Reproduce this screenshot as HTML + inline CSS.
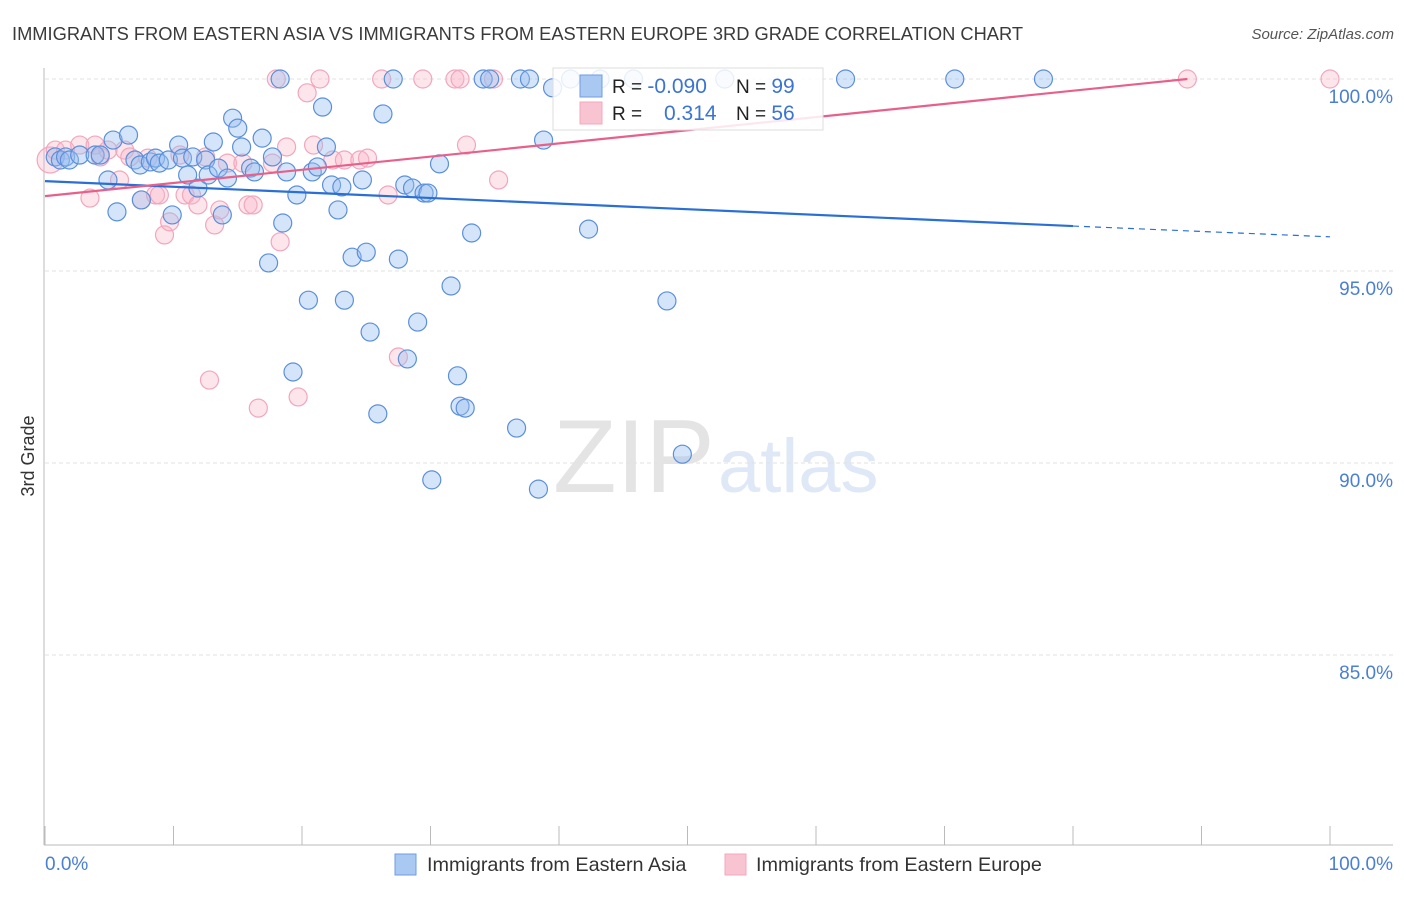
<!DOCTYPE html>
<html><head><meta charset="utf-8"><style>
body{margin:0;background:#fff;font-family:"Liberation Sans",sans-serif;}
svg text{font-family:"Liberation Sans",sans-serif;}
</style></head><body>
<svg id="c" width="1406" height="892">
<text x="12" y="40" font-size="18.3" fill="#3a3a3a">IMMIGRANTS FROM EASTERN ASIA VS IMMIGRANTS FROM EASTERN EUROPE 3RD GRADE CORRELATION CHART</text>
<text x="1394" y="39" font-size="15" fill="#555" font-style="italic" text-anchor="end">Source: ZipAtlas.com</text>
<text x="34" y="456" font-size="18" fill="#333" text-anchor="middle" transform="rotate(-90 34 456)">3rd Grade</text>
<g>
<text x="553" y="492" font-size="104" fill="#e4e4e4" font-family="Liberation Serif">ZIP</text>
<text x="718" y="492" font-size="76" fill="#dfe8f6">atlas</text>
</g>
<g id="grid"></g><g id="marks"></g><g id="lines"></g>
<g>
<rect x="553" y="68" width="270" height="62" fill="#fff" fill-opacity="0.85" stroke="#ddd"/>
<rect x="580" y="75" width="22" height="22" fill="#a9c8f2" stroke="#6e9de0"/>
<rect x="580" y="102" width="22" height="22" fill="#f9c4d2" stroke="#f3a9bd"/>
<text x="612" y="93" font-size="19" fill="#222">R = <tspan fill="#3b74d4" font-size="21">-0.090</tspan></text>
<text x="736" y="93" font-size="19" fill="#222">N = <tspan fill="#3b74d4" font-size="21">99</tspan></text>
<text x="612" y="120" font-size="19" fill="#222">R = <tspan fill="#3b74d4" x="664" font-size="21">0.314</tspan></text>
<text x="736" y="120" font-size="19" fill="#222">N = <tspan fill="#3b74d4" font-size="21">56</tspan></text>
</g>
<g>
<rect x="395" y="854" width="21" height="21" fill="#a9c8f2" stroke="#6e9de0"/>
<text x="427" y="871" font-size="19.8" fill="#333">Immigrants from Eastern Asia</text>
<rect x="725" y="854" width="21" height="21" fill="#f9c4d2" stroke="#f3a9bd"/>
<text x="756" y="871" font-size="19.8" fill="#333">Immigrants from Eastern Europe</text>
</g>
</svg>
<script>
const asiaX=[0.8,1.2,1.6,1.9,2.7,3.9,4.3,4.9,5.3,5.6,6.5,7.0,7.4,7.5,8.2,8.6,8.9,9.6,9.9,10.4,10.7,11.1,11.5,11.9,12.5,12.7,13.1,13.5,13.8,14.2,14.6,15.0,15.3,16.0,16.3,16.9,17.4,17.7,18.5,18.8,19.3,19.6,20.5,20.8,21.2,21.6,21.9,22.3,22.8,23.1,23.3,23.9,24.7,25.0,25.3,25.9,26.3,27.5,28.0,28.2,28.6,29.0,29.5,29.8,30.1,30.7,31.6,32.1,32.3,32.7,33.2,36.7,38.4,38.8,39.5,42.3,48.4,49.6,18.3,27.1,34.1,34.6,37.0,37.7,40.9,43.2,45.8,52.9,62.3,70.8,77.7];
const asiaY=[97.97,97.89,97.97,97.89,98.02,98.02,98.02,97.37,98.41,96.54,98.54,97.89,97.76,96.85,97.84,97.94,97.81,97.89,96.46,98.28,97.94,97.5,97.97,97.16,97.89,97.5,98.36,97.68,96.46,97.42,98.98,98.72,98.23,97.68,97.58,98.46,95.21,97.97,96.25,97.58,92.37,96.98,94.24,97.58,97.71,99.27,98.23,97.24,96.59,97.19,94.24,95.36,97.37,95.49,93.41,91.28,99.09,95.31,97.24,92.71,97.16,93.67,97.03,97.03,89.56,97.79,94.61,92.27,91.48,91.43,95.99,90.91,89.32,98.41,99.77,96.09,94.22,90.23,100,100,100,100,100,100,100,100,100,100,100,100,100];
const eurX=[0.4,0.8,1.6,2.7,3.9,4.3,5.8,6.2,6.6,7.5,8.0,8.6,8.9,9.3,9.7,10.5,10.9,11.4,11.9,12.5,12.8,13.2,13.6,14.2,15.4,15.8,16.2,16.6,17.7,18.3,18.8,19.7,20.4,20.9,22.4,23.3,24.5,25.1,26.7,27.5,32.8,35.3,3.5,4.9,18.0,21.4,26.2,29.4,31.9,32.3,34.9,88.9,100];
const eurY=[97.89,98.15,98.15,98.28,98.28,97.97,97.37,98.15,97.97,96.85,97.94,96.98,96.98,95.94,96.28,98.02,96.98,96.98,96.72,97.97,92.16,96.2,96.59,97.81,97.81,96.72,96.72,91.43,97.81,95.76,98.23,91.72,99.64,98.28,97.89,97.89,97.89,97.94,96.98,92.76,98.28,97.37,96.9,98.15,100,100,100,100,100,100,100,100,100];
const yTicks=[100,95,90,85];
const yTickLabels=["100.0%","95.0%","90.0%","85.0%"];
const xTicks=[0,10,20,30,40,50,60,70,80,90,100];
const asiaTrend=[[0,97.34],[80,96.17]], asiaTrendDash=[[80,96.17],[100,95.89]];
const eurTrend=[[0,96.95],[88.9,100]];
const NS='http://www.w3.org/2000/svg';
const sx=v=>45+v*12.85, sy=v=>79+(100-v)*38.4;
function mk(t,a,p){const e=document.createElementNS(NS,t);for(const k in a)e.setAttribute(k,a[k]);p.appendChild(e);return e;}
const grid=document.getElementById('grid'),marks=document.getElementById('marks'),lines=document.getElementById('lines');
yTicks.forEach((v,i)=>{
 const l=mk('line',{x1:45,x2:1393,y1:sy(v),y2:sy(v),stroke:'#e2e2e2','stroke-dasharray':'4 3'},grid);
 
 
 const t=mk('text',{x:1393,y:sy(v)+24,'font-size':19,fill:'#4a7fd4','text-anchor':'end'},grid);
 t.textContent=yTickLabels[i];
 
 
});
const ax=mk('line',{x1:44,x2:44,y1:68,y2:845,stroke:'#bbb'},grid);


const bx=mk('line',{x1:44,x2:1393,y1:845,y2:845,stroke:'#bbb'},grid);


xTicks.forEach(v=>{
 const l=mk('line',{x1:sx(v),x2:sx(v),y1:826,y2:845,stroke:'#bbb'},grid);
 
 
});
const x0=mk('text',{x:45,y:870,'font-size':19,fill:'#4a7fd4'},grid);x0.textContent='0.0%';


const x1=mk('text',{x:1393,y:870,'font-size':19,fill:'#4a7fd4','text-anchor':'end'},grid);x1.textContent='100.0%';


eurX.forEach((v,i)=>{
 const c=mk('circle',{cx:sx(v),cy:sy(eurY[i]),r:i==0?13:9,fill:'rgba(248,180,200,0.35)',stroke:'#f2a6bc','stroke-width':1.2},marks);
 
 
});
asiaX.forEach((v,i)=>{
 const c=mk('circle',{cx:sx(v),cy:sy(asiaY[i]),r:9,fill:'rgba(150,190,240,0.4)',stroke:'#5b8fdc','stroke-width':1.2},marks);
 
 
});
function ln(p,col,dash,name){const l=mk('line',{x1:sx(p[0][0]),y1:sy(p[0][1]),x2:sx(p[1][0]),y2:sy(p[1][1]),stroke:col,'stroke-width':dash?1.2:2.2},lines);
 if(dash)l.setAttribute('stroke-dasharray','6 5');
 
 }
ln(asiaTrend,'#2a6fd6',false,'trend-line-asia');
ln(asiaTrendDash,'#2a6fd6',true,'trend-line-asia-extension');
ln(eurTrend,'#e8608a',false,'trend-line-europe');
</script>
</body></html>
